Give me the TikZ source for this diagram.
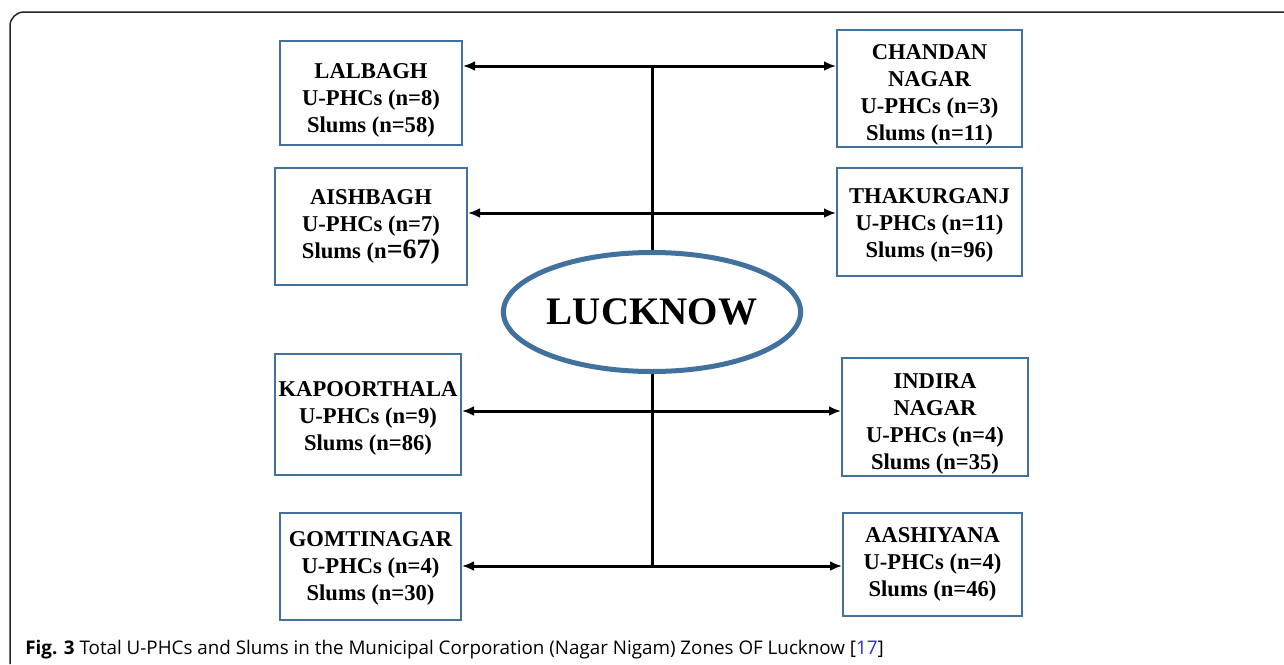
\documentclass[tikz,border=0pt]{standalone}
\usepackage{fontspec}
\setmainfont{Liberation Serif}
\newfontfamily\capfont{Open Sans}
\usetikzlibrary{arrows.meta,shapes.geometric}
\definecolor{zoneblue}{HTML}{41719C}
\definecolor{linkblue}{HTML}{2A2AE8}
\newcommand{\zdown}[1]{\rule{0pt}{#1}}
\begin{document}
\begin{tikzpicture}[x=0.5pt,y=-0.5pt,
  zone/.style={draw=zoneblue, line width=1pt, rectangle, align=center, inner sep=1pt,
    font=\bfseries\fontsize{11.3}{13.5}\selectfont},
  link/.style={line width=1.5pt, {Latex[length=6pt,width=5pt]}-{Latex[length=6pt,width=5pt]}},
  trunk/.style={line width=1.5pt}]
  \useasboundingbox (0,0) rectangle (1284,664);
  \draw[line width=0.75pt, color=black!85, rounded corners=7] (10,664) -- (10,12) -- (1284,12);
  \node[draw=zoneblue, line width=2.5pt, ellipse, minimum width=147pt, minimum height=59.5pt,
    inner sep=0pt, font=\bfseries\fontsize{19.5}{22}\selectfont] (city) at (652,312) {LUCKNOW};
  \node[zone, minimum width=91pt, minimum height=52pt] (lal) at (371,93) {\zdown{14.5pt}LALBAGH\\U-PHCs (n=8)\\Slums (n=58)};
  \node[zone, minimum width=96pt, minimum height=58.5pt] (aish) at (371,226.5) {AISHBAGH\\U-PHCs (n=7)\\Slums (n{\fontsize{14}{13.5}\selectfont=67)}};
  \node[zone, minimum width=92.5pt, minimum height=57.5pt] (chan) at (929.5,88.5) {\zdown{13.5pt}CHANDAN\\NAGAR\\U-PHCs (n=3)\\Slums (n=11)};
  \node[zone, minimum width=92.5pt, minimum height=54pt] (thak) at (929.5,222) {\zdown{10.5pt}THAKURGANJ\\U-PHCs (n=11)\\Slums (n=96)};
  \node[zone, minimum width=93pt, minimum height=60.5pt] (kap) at (368,414.5) {\zdown{11pt}KAPOORTHALA\\U-PHCs (n=9)\\Slums (n=86)};
  \node[zone, minimum width=93pt, minimum height=58pt] (ind) at (935,417) {\zdown{14.5pt}INDIRA\\NAGAR\\U-PHCs (n=4)\\Slums (n=35)};
  \node[zone, minimum width=90.5pt, minimum height=53.5pt] (gom) at (370.5,566.5) {\zdown{9.5pt}GOMTINAGAR\\U-PHCs (n=4)\\Slums (n=30)};
  \node[zone, minimum width=89.5pt, minimum height=51.5pt] (aash) at (932.5,564.5) {AASHIYANA\\U-PHCs (n=4)\\Slums (n=46)};
  \coordinate (t1) at (652,66);
  \coordinate (t2) at (652,213);
  \coordinate (t3) at (652,411);
  \coordinate (t4) at (652,566);
  \draw[trunk] (t1) -- (city.north);
  \draw[trunk] (city.south) -- (t4);
  \draw[link] (lal.east |- t1) -- (chan.west |- t1);
  \draw[link] (aish.east |- t2) -- (thak.west |- t2);
  \draw[link] (kap.east |- t3) -- (ind.west |- t3);
  \draw[link] (gom.east |- t4) -- (aash.west |- t4);
  \node[anchor=base west, inner sep=0pt, font=\capfont\fontsize{9.4}{11}\selectfont] (cap) at (25,654)
    {\textbf{Fig. 3} Total U-PHCs and Slums in the Municipal Corporation (Nagar Nigam) Zones OF Lucknow [\textcolor{linkblue}{17}]};
\end{tikzpicture}
\end{document}
